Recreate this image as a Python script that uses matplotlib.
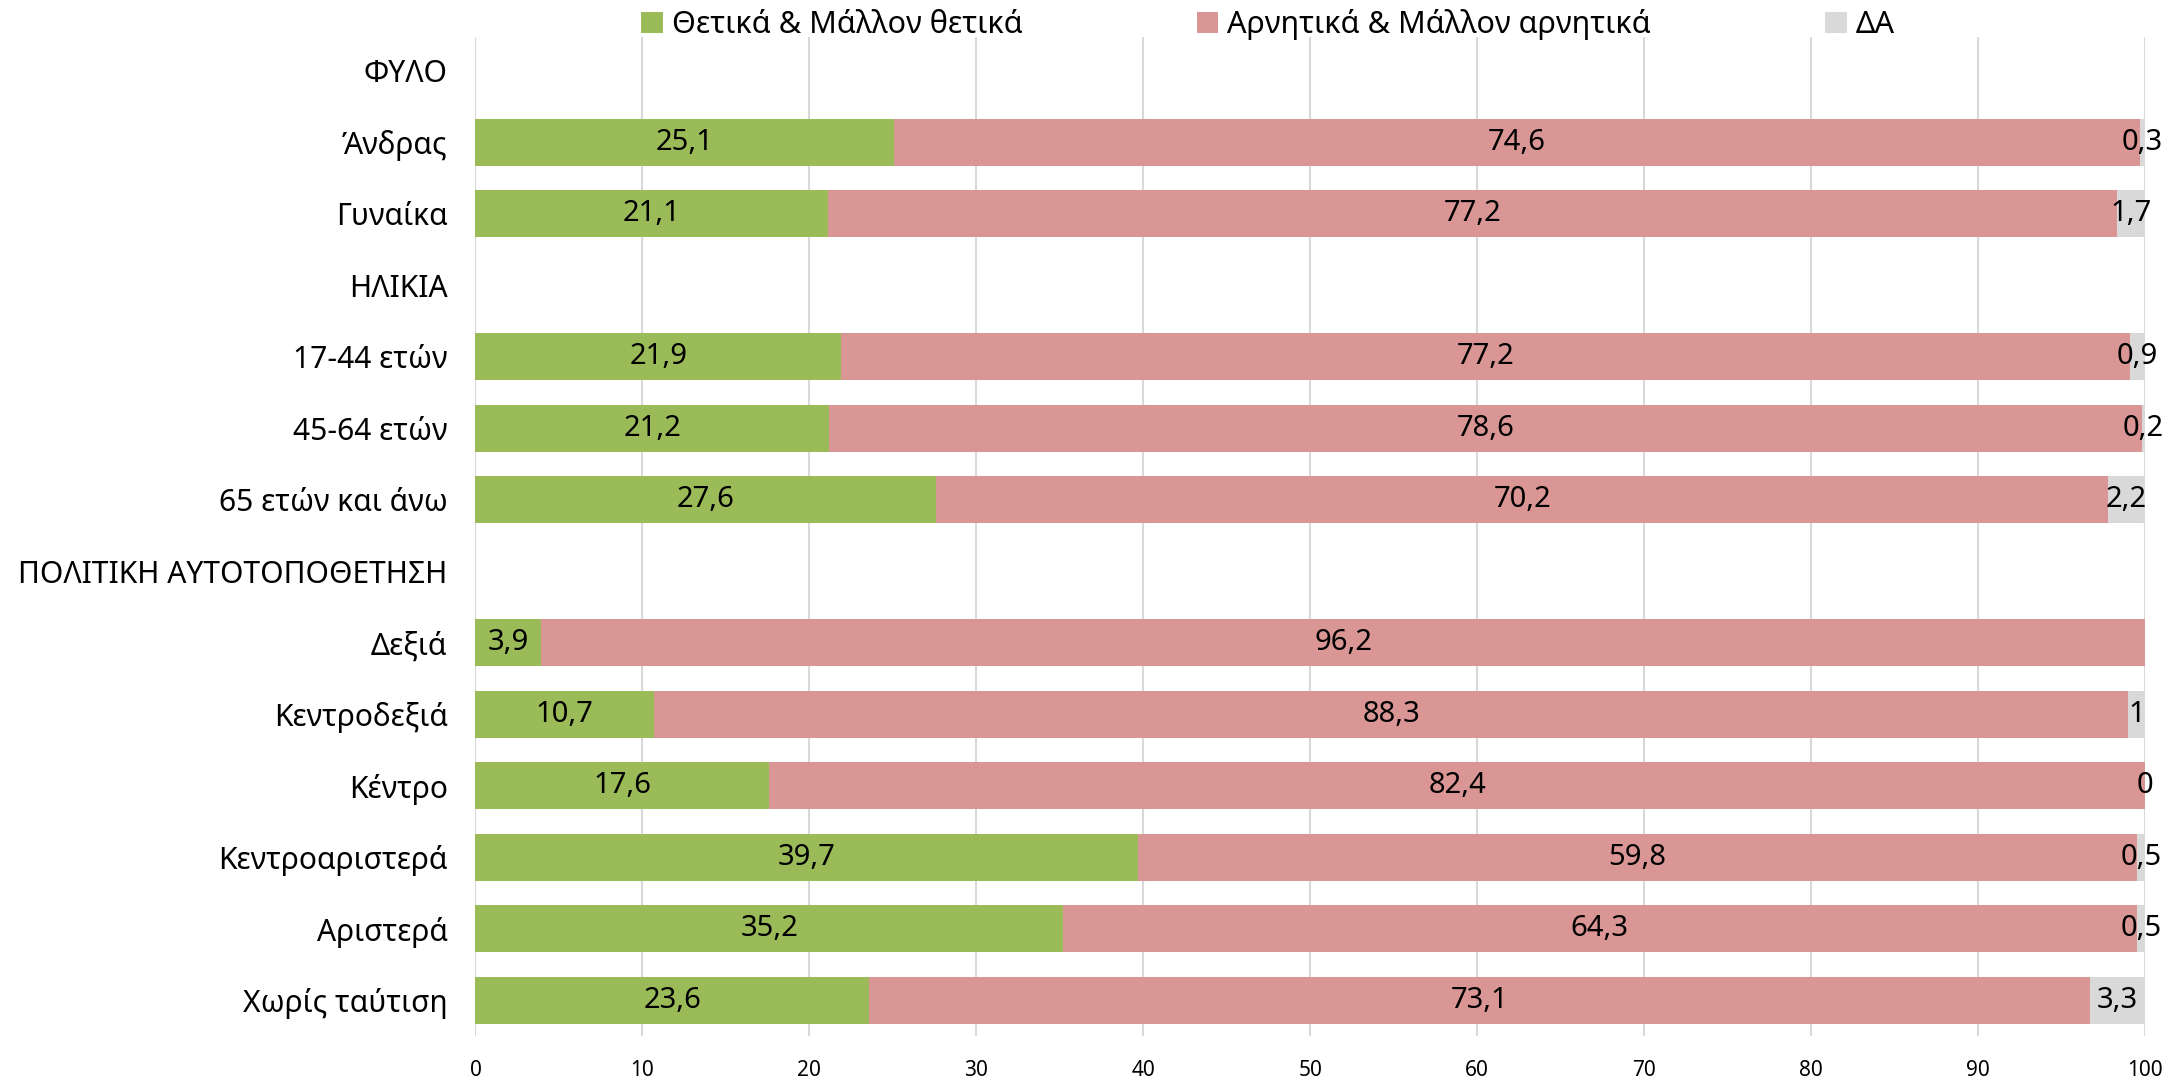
import numpy as np
import matplotlib
matplotlib.use("Agg")
import matplotlib.pyplot as plt

plt.rcParams['font.family'] = ['Noto Sans', 'DejaVu Sans']

categories = ["ΦΥΛΟ", "Άνδρας", "Γυναίκα", "ΗΛΙΚΙΑ", "17-44 ετών", "45-64 ετών",
              "65 ετών και άνω", "ΠΟΛΙΤΙΚΗ ΑΥΤΟΤΟΠΟΘΕΤΗΣΗ", "Δεξιά", "Κεντροδεξιά",
              "Κέντρο", "Κεντροαριστερά", "Αριστερά", "Χωρίς ταύτιση"]
positive = [np.nan, 25.1, 21.1, np.nan, 21.9, 21.2, 27.6, np.nan, 3.9, 10.7, 17.6, 39.7, 35.2, 23.6]
negative = [np.nan, 74.6, 77.2, np.nan, 77.2, 78.6, 70.2, np.nan, 96.2, 88.3, 82.4, 59.8, 64.3, 73.1]
dont_know = [np.nan, 0.3, 1.7, np.nan, 0.9, 0.2, 2.2, np.nan, np.nan, 1.0, 0.0, 0.5, 0.5, 3.3]
series_names = ["Θετικά & Μάλλον θετικά", "Αρνητικά & Μάλλον αρνητικά", "ΔΑ"]
colors = ["#9BBB59", "#D99694", "#D9D9D9"]
xticks = list(range(0, 101, 10))

fig = plt.figure(figsize=(21.71, 10.81), dpi=100)
ax = fig.add_axes([0.219, 0.0416, 0.769, 0.924])

y = np.arange(len(categories))
series = [positive, negative, dont_know]
left = np.zeros(len(categories))
bar_h = 0.66
for vals, name, col in zip(series, series_names, colors):
    v = np.array(vals, dtype=float)
    vv = np.nan_to_num(v)
    ax.barh(y, vv, left=left, height=bar_h, color=col, label=name, zorder=2)
    for i, val in enumerate(v):
        if not np.isnan(val):
            txt = f"{val:g}".replace(".", ",")
            ax.text(left[i] + vv[i] / 2, y[i], txt, ha="center", va="center",
                    fontsize=21, color="black", zorder=3)
    left = left + vv

ax.set_xlim(0, 100)
ax.set_ylim(len(categories) - 0.5, -0.47)
ax.set_yticks(y)
ax.set_yticklabels(categories, fontsize=21.6)
ax.set_xticks(xticks)
ax.set_xticklabels([str(t) for t in xticks], fontsize=15)
ax.tick_params(axis="both", length=0)
ax.tick_params(axis="y", pad=20)
ax.tick_params(axis="x", pad=17)
for s in ax.spines.values():
    s.set_visible(False)
ax.grid(axis="x", color="#D9D9D9", linewidth=1.5, zorder=0)
ax.set_axisbelow(True)

fig.legend(loc="center", bbox_to_anchor=(1268 / 2171, 0.977), ncol=3, frameon=False,
           fontsize=22, columnspacing=5.7, handlelength=0.7, handleheight=0.7,
           handletextpad=0.3)

fig.savefig("out.png", dpi=100)
